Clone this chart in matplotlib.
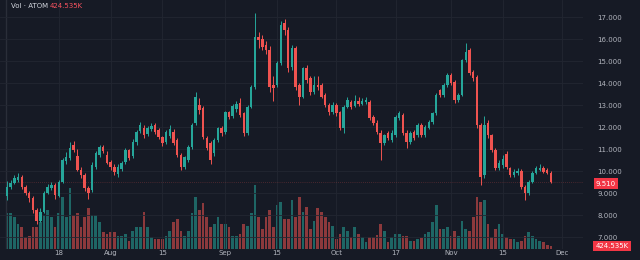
import matplotlib
matplotlib.use('Agg')
import matplotlib.pyplot as plt
import matplotlib.dates as mdates
import pandas as pd

# --- daily ATOM candles
dates = pd.date_range('2022-07-04', periods=148, freq='D')

opens = [8.85, 9.27, 9.45, 9.6, 9.73, 9.27, 9.0, 8.77, 8.23, 7.75,
         8.14, 9.0, 9.23, 9.36, 8.85, 9.5, 10.45, 10.6, 11.18, 10.7,
         10.05, 9.8, 9.23, 9.14, 10.2, 10.75, 11.1, 10.75, 10.41, 10.18,
         9.85, 10.1, 10.4, 10.95, 10.7, 11.3, 11.8, 11.95, 11.7, 11.9,
         12.1, 11.86, 11.55, 11.3, 11.6, 11.77, 11.4, 10.73, 10.18, 10.5,
         11.1, 12.18, 13.0, 12.86, 11.5, 11.27, 10.82, 11.4, 11.95, 11.77,
         12.68, 12.5, 12.8, 13.09, 12.64, 11.73, 12.9, 13.8, 16.1, 16.0,
         15.73, 15.5, 13.9, 13.9, 14.9, 16.73, 16.4, 14.73, 15.6, 13.9,
         13.36, 14.68, 14.23, 13.6, 13.9, 13.9, 13.45, 13.0, 12.68, 13.0,
         12.68, 11.95, 12.9, 13.14, 12.95, 13.2, 13.05, 13.15, 13.14, 12.45,
         12.18, 11.73, 11.27, 11.73, 11.4, 11.64, 12.4, 12.55, 11.73, 11.32,
         11.77, 11.64, 12.09, 11.64, 11.95, 12.23, 12.64, 13.68, 13.45, 13.9,
         14.36, 14.05, 13.23, 13.45, 15.05, 15.5, 14.5, 14.27, 12.09, 9.82,
         12.18, 11.64, 10.95, 10.14, 10.27, 10.77, 10.14, 9.82, 9.9, 10.0,
         9.27, 9.0, 9.5, 9.9, 10.05, 10.14, 10.05, 9.9]

closes = [9.27, 9.45, 9.68, 9.73, 9.27, 9.0, 8.77, 8.23, 7.75, 8.14,
          9.0, 9.27, 9.36, 8.9, 9.5, 10.5, 10.64, 11.05, 10.95, 10.05,
          9.8, 9.23, 9.0, 10.27, 10.8, 11.1, 10.9, 10.36, 10.2, 9.95,
          10.18, 10.36, 10.95, 10.6, 11.3, 11.77, 12.1, 11.64, 11.95, 12.05,
          11.77, 11.55, 11.27, 11.77, 11.9, 11.27, 10.73, 10.18, 10.64, 11.1,
          12.1, 13.36, 12.77, 11.55, 11.05, 10.5, 11.4, 11.95, 11.73, 12.68,
          12.45, 12.95, 13.05, 12.55, 11.73, 12.9, 13.8, 16.1, 15.95, 15.64,
          15.5, 13.82, 13.77, 14.9, 16.64, 16.4, 14.68, 15.6, 13.82, 13.36,
          14.68, 14.14, 13.6, 13.9, 13.8, 13.36, 13.0, 12.68, 13.0, 12.64,
          11.95, 12.9, 13.23, 12.9, 13.2, 13.05, 13.2, 13.25, 12.4, 12.18,
          11.77, 11.27, 11.64, 11.5, 11.73, 12.45, 12.64, 11.73, 11.32, 11.73,
          11.5, 12.09, 11.64, 12.0, 12.23, 12.64, 13.45, 13.45, 13.9, 14.36,
          14.0, 13.23, 13.45, 15.05, 15.4, 14.45, 14.23, 12.09, 9.73, 12.09,
          11.64, 10.95, 10.14, 10.36, 10.55, 10.18, 9.82, 9.95, 10.0, 9.27,
          9.0, 9.5, 9.9, 10.14, 10.15, 9.95, 9.9, 9.51]

highs = [9.55, 9.6, 9.8, 9.9, 9.8, 9.35, 9.1, 8.85, 8.3, 8.3,
         9.1, 9.4, 9.5, 9.45, 9.6, 10.6, 10.85, 11.3, 11.35, 11.0,
         10.2, 9.9, 9.3, 10.4, 10.9, 11.2, 11.2, 10.9, 10.5, 10.3,
         10.3, 10.45, 11.05, 11.0, 11.45, 11.85, 12.25, 12.1, 12.05, 12.2,
         12.2, 11.95, 11.6, 11.85, 12.1, 11.9, 11.5, 10.8, 10.7, 11.2,
         12.2, 13.6, 13.3, 12.95, 11.6, 11.35, 11.5, 12.0, 12.05, 12.75,
         12.75, 13.05, 13.2, 13.3, 12.7, 13.0, 13.9, 17.2, 16.3, 16.2,
         15.9, 15.7, 14.3, 15.0, 16.8, 16.9, 16.55, 15.75, 15.7, 14.0,
         14.75, 14.8, 14.3, 14.3, 14.3, 14.0, 13.55, 13.1, 13.15, 13.1,
         12.75, 13.0, 13.35, 13.25, 13.45, 13.35, 13.3, 13.35, 13.25, 12.55,
         12.3, 11.85, 11.7, 11.8, 11.85, 12.55, 12.75, 12.65, 11.85, 11.8,
         11.85, 12.2, 12.2, 12.1, 12.3, 12.7, 13.55, 13.75, 14.0, 14.45,
         14.45, 14.15, 13.55, 15.1, 15.8, 15.6, 14.6, 14.35, 12.2, 12.5,
         12.3, 11.7, 11.05, 10.5, 10.75, 10.9, 10.2, 10.1, 10.15, 10.1,
         9.35, 9.6, 10.0, 10.25, 10.3, 10.25, 10.15, 10.0]

lows = [8.7, 9.2, 9.4, 9.5, 9.2, 8.9, 8.6, 8.1, 7.6, 7.7,
        8.1, 8.95, 9.15, 8.75, 8.8, 9.45, 10.3, 10.5, 10.85, 10.0,
        9.7, 9.1, 8.75, 9.05, 10.1, 10.65, 10.8, 10.3, 10.05, 9.8,
        9.75, 10.0, 10.3, 10.5, 10.6, 11.2, 11.75, 11.5, 11.6, 11.8,
        11.7, 11.45, 11.15, 11.25, 11.5, 11.2, 10.65, 10.05, 10.1, 10.4,
        11.0, 12.1, 12.6, 11.45, 10.95, 10.3, 10.7, 11.3, 11.6, 11.7,
        12.35, 12.4, 12.7, 12.45, 11.6, 11.65, 12.85, 13.75, 15.6, 15.5,
        15.3, 13.6, 13.2, 13.8, 14.8, 16.2, 14.5, 14.6, 13.7, 13.0,
        13.3, 14.0, 13.45, 13.5, 13.7, 13.3, 12.9, 12.55, 12.6, 12.5,
        11.85, 11.75, 12.85, 12.8, 12.9, 12.95, 13.0, 13.05, 12.3, 12.1,
        11.7, 10.5, 11.2, 11.4, 11.3, 11.55, 12.3, 11.65, 11.05, 11.25,
        11.4, 11.55, 11.55, 11.55, 11.9, 12.15, 12.55, 13.35, 13.35, 13.8,
        13.9, 13.1, 13.15, 13.4, 14.95, 14.35, 14.1, 11.95, 9.36, 9.7,
        11.5, 10.85, 10.05, 10.05, 10.15, 10.1, 9.75, 9.75, 9.8, 9.2,
        8.7, 8.9, 9.45, 9.85, 10.0, 9.9, 9.85, 9.45]

# volume in millions, last bar 424.535K
volumes = [5.18, 5.18, 4.62, 3.5, 3.08, 1.68, 1.82, 3.08, 3.08, 3.78,
           4.9, 5.6, 4.62, 3.08, 5.18, 7.42, 4.62, 8.68, 4.9, 5.18,
           3.08, 4.48, 5.88, 4.9, 4.9, 3.78, 2.38, 2.1, 2.38, 2.38,
           1.82, 1.82, 2.1, 1.12, 2.52, 3.08, 3.08, 5.32, 3.08, 1.68,
           1.4, 1.4, 1.4, 1.82, 2.52, 3.78, 4.2, 2.52, 1.82, 2.52,
           5.18, 7.42, 5.6, 6.58, 4.48, 3.08, 3.5, 4.48, 3.5, 3.5,
           3.08, 1.82, 1.82, 2.1, 3.5, 3.22, 5.18, 9.1, 4.48, 2.8,
           4.48, 5.6, 3.08, 6.3, 6.72, 4.2, 4.2, 7.0, 4.62, 7.42,
           5.32, 6.02, 2.8, 3.92, 5.88, 5.32, 4.48, 3.78, 3.22, 1.4,
           2.1, 3.08, 2.52, 1.68, 3.08, 2.1, 1.68, 0.98, 1.68, 1.68,
           1.96, 3.5, 2.52, 0.98, 1.68, 2.1, 2.1, 1.82, 1.82, 1.12,
           1.12, 1.4, 1.54, 2.1, 2.38, 3.78, 6.3, 2.8, 2.8, 3.08,
           1.82, 2.52, 1.82, 3.92, 2.8, 2.52, 4.62, 7.42, 6.72, 7.0,
           3.5, 1.68, 2.8, 3.5, 2.1, 1.68, 1.4, 1.4, 0.98, 1.12,
           1.82, 2.38, 1.82, 1.4, 1.12, 0.98, 0.56, 0.4245]

tick_dates = ['2022-07-18', '2022-08-01', '2022-08-15', '2022-09-01', '2022-09-15',
              '2022-10-01', '2022-10-17', '2022-11-01', '2022-11-15', '2022-12-01']
tick_labels = ['18', 'Aug', '15', 'Sep', '15', 'Oct', '17', 'Nov', '15', 'Dec']
price_ticks = [7, 8, 9, 10, 11, 12, 13, 14, 15, 16, 17]
last_price = 9.51

bg = '#161a25'
grid = '#222631'
up = '#26a69a'
down = '#ef5350'
txt = '#b2b5be'

W, H = 640, 260
bottom_px = 249  # bottom edge of the plot area, in pixels from the top
fig = plt.figure(figsize=(6.4, 2.6), dpi=100, facecolor=bg)
rect = [0, (H - bottom_px) / H, 583 / W, bottom_px / H]
ax_v = fig.add_axes(rect, facecolor=bg)
ax = fig.add_axes(rect, facecolor='none', sharex=ax_v)

x = mdates.date2num(dates)
x0 = x[0]
colors = [up if c >= o else down for o, c in zip(opens, closes)]

# volume overlay
ax_v.bar(x, volumes, width=0.75, color=colors, alpha=0.55, linewidth=0)
ax_v.set_ylim(0, 9.1 * bottom_px / 64)
ax_v.set_yticks([])
ax_v.tick_params(axis='x', which='both', bottom=False, labelbottom=False)
for s in ax_v.spines.values():
    s.set_visible(False)

# candles
body_lo = [min(o, c) for o, c in zip(opens, closes)]
body_h = [max(abs(c - o), 0.04) for o, c in zip(opens, closes)]
ax.vlines(x, lows, highs, colors=colors, linewidth=0.7, zorder=3)
ax.bar(x, body_h, bottom=body_lo, width=0.7, color=colors, linewidth=0, zorder=4)

ax.axhline(last_price, color=down, lw=0.5, ls=(0, (1, 2)), alpha=0.45, zorder=2)

ax.set_ylim(17 - (bottom_px - 17) / 22, 17 + 17 / 22)
ax.set_xlim(x0 - 7 / 3.7, x0 + 576 / 3.7)

tx = mdates.date2num(pd.to_datetime(tick_dates))
ax.set_xticks(tx)
ax.set_xticklabels(tick_labels)
ax.set_yticks(price_ticks)
ax.set_yticklabels([f'{p:.3f}' for p in price_ticks])
ax.yaxis.tick_right()
ax.tick_params(axis='y', length=0, pad=10.5, labelsize=5, colors=txt)
ax.tick_params(axis='x', length=0, pad=1.0, labelsize=5, colors=txt)
ax.grid(True, color=grid, lw=0.6)
ax.set_axisbelow(True)
for s in ax.spines.values():
    s.set_visible(False)
ax_v.axvline(x0 - 0.27, color='#2a2e39', lw=1)

# price / volume tags on the right scale
fig.text(606 / W, 1 - 183.5 / H, f'{last_price:.3f}', color='white', fontsize=5,
         ha='center', va='center',
         bbox=dict(boxstyle='square,pad=0.35', fc='#f23645', ec='none'))
fig.text(612 / W, 1 - 246 / H, '424.535K', color='white', fontsize=5,
         ha='center', va='center',
         bbox=dict(boxstyle='square,pad=0.35', fc='#f23645', ec='none'))

# legend at top left
fig.text(11 / W, 1 - 6 / H, 'Vol · ATOM', color='#d1d4dc', fontsize=5, va='center')
fig.text(50 / W, 1 - 6 / H, '424.535K', color='#f7525f', fontsize=5, va='center')

fig.savefig('out.png', dpi=100, facecolor=bg)
